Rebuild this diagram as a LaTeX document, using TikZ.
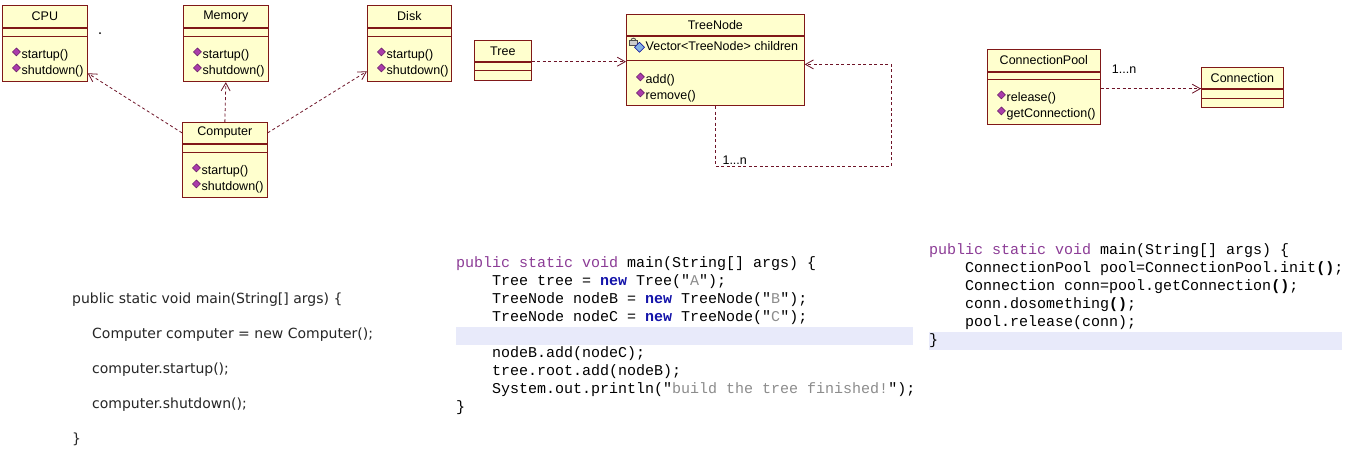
\documentclass[tikz,border=0pt]{standalone}
\usepackage{fontspec}
\setmainfont{Liberation Sans}
\setmonofont{Liberation Mono}
\newfontfamily\codesans{DejaVu Sans}
\usetikzlibrary{arrows.meta}

\definecolor{umlfill}{RGB}{255,255,206}
\definecolor{umlline}{RGB}{128,24,24}
\definecolor{linkcol}{RGB}{110,20,40}
\definecolor{opfill}{RGB}{170,60,170}
\definecolor{opdark}{RGB}{90,20,90}
\definecolor{kwpurple}{RGB}{140,60,150}
\definecolor{kwblue}{RGB}{20,20,170}
\definecolor{strgray}{RGB}{140,140,140}
\definecolor{curline}{RGB}{232,234,250}

\newcommand{\opicon}{\tikz[baseline=0pt]\filldraw[fill=opfill, draw=opdark, line width=0.5pt]
    (0pt,6.5pt) -- (4pt,10.5pt) -- (8pt,6.5pt) -- (4pt,2.5pt) -- cycle;\hspace{1pt}}
\newcommand{\lockicon}{\tikz[baseline=0pt]{%
    \draw[gray!70!black, line width=1pt] (1.5pt,10pt) arc[start angle=180, end angle=0, radius=2.5pt];
    \filldraw[fill=gray!40, draw=gray!60!black, line width=0.5pt] (0pt,5pt) rectangle (8pt,10.5pt);
    \filldraw[fill=cyan!60!blue!50, draw=blue!60!black, line width=0.5pt]
        (5pt,3.5pt) -- (10pt,8.5pt) -- (15pt,3.5pt) -- (10pt,-1.5pt) -- cycle;}\hspace{1pt}}
\newcommand{\kw}[1]{\textcolor{kwpurple}{#1}}
\newcommand{\kwnew}{\textcolor{kwblue}{\textbf{new}}}
\newcommand{\strlit}[1]{"\textcolor{strgray}{#1}"}

\begin{document}
\begin{tikzpicture}[
    x=1pt, y=-1pt,
    clsname/.style={
        rectangle, draw=umlline, fill=umlfill, line width=0.7pt, anchor=north west,
        inner sep=0pt, minimum height=22pt, font=\fontsize{12.5}{15}\selectfont
    },
    clscomp/.style={
        rectangle, draw=umlline, fill=umlfill, line width=0.7pt, anchor=north west,
        inner sep=0pt
    },
    opline/.style={anchor=base west, inner sep=0pt, font=\fontsize{12.5}{15}\selectfont},
    deplink/.style={
        draw=linkcol, line width=0.8pt, dash pattern=on 3pt off 2.5pt,
        -{Straight Barb[length=8pt, width=9pt]}
    },
    codeline/.style={anchor=base west, inner sep=0pt, font=\ttfamily\fontsize{15}{18}\selectfont},
    textline/.style={anchor=base west, inner sep=0pt, font=\codesans\fontsize{14}{17}\selectfont, text=black!85},
]
\useasboundingbox[fill=white] (0,0) rectangle (1345,456);

% CPU class (top-left)
\node[clsname, minimum width=85pt] (cpu) at (2,5) {CPU};
\node[clscomp, minimum width=85pt, minimum height=8pt] (cpu-at) at (cpu.south west) {};
\node[clscomp, minimum width=85pt, minimum height=45pt] (cpu-ops) at (cpu-at.south west) {};
\node[opline] (cpu-op1) at ([shift={(10,22)}]cpu-ops.north west) {\opicon startup()};
\node[opline] (cpu-op2) at ([shift={(10,38)}]cpu-ops.north west) {\opicon shutdown()};
\fill (100,33) circle[radius=1pt];

% Memory class
\node[clsname, minimum width=85pt] (mem) at (183,5) {Memory};
\node[clscomp, minimum width=85pt, minimum height=8pt] (mem-at) at (mem.south west) {};
\node[clscomp, minimum width=85pt, minimum height=45pt] (mem-ops) at (mem-at.south west) {};
\node[opline] (mem-op1) at ([shift={(10,22)}]mem-ops.north west) {\opicon startup()};
\node[opline] (mem-op2) at ([shift={(10,38)}]mem-ops.north west) {\opicon shutdown()};

% Disk class
\node[clsname, minimum width=84pt] (disk) at (367,5) {Disk};
\node[clscomp, minimum width=84pt, minimum height=8pt] (disk-at) at (disk.south west) {};
\node[clscomp, minimum width=84pt, minimum height=45pt] (disk-ops) at (disk-at.south west) {};
\node[opline] (disk-op1) at ([shift={(10,22)}]disk-ops.north west) {\opicon startup()};
\node[opline] (disk-op2) at ([shift={(10,38)}]disk-ops.north west) {\opicon shutdown()};

% Computer class
\node[clsname, minimum width=85pt, minimum height=21pt] (computer) at (182,122) {Computer};
\node[clscomp, minimum width=85pt, minimum height=8pt] (computer-at) at (computer.south west) {};
\node[clscomp, minimum width=85pt, minimum height=45pt] (computer-ops) at (computer-at.south west) {};
\node[opline] (computer-op1) at ([shift={(10,22)}]computer-ops.north west) {\opicon startup()};
\node[opline] (computer-op2) at ([shift={(10,38)}]computer-ops.north west) {\opicon shutdown()};

% Computer depends on CPU, Memory, Disk
\draw[deplink] (computer.west) -- ([yshift=-14pt]cpu-ops.east);
\draw[deplink] (computer.north) -- (mem-ops.south);
\draw[deplink] (computer.east) -- ([yshift=-12pt]disk-ops.west);

% Tree class
\node[clsname, minimum width=57pt, minimum height=21pt] (tree) at (474,40) {Tree};
\node[clscomp, minimum width=57pt, minimum height=8pt] (tree-at) at (tree.south west) {};
\node[clscomp, minimum width=57pt, minimum height=10pt] (tree-ops) at (tree-at.south west) {};

% TreeNode class
\node[clsname, minimum width=178pt, minimum height=21pt] (tn) at (626,14) {TreeNode};
\node[clscomp, minimum width=178pt, minimum height=24pt] (tn-at) at (tn.south west) {};
\node[clscomp, minimum width=178pt, minimum height=45pt] (tn-ops) at (tn-at.south west) {};
\node[opline] (tn-at1) at ([shift={(3,15)}]tn-at.north west) {\lockicon Vector<TreeNode> children};
\node[opline] (tn-op1) at ([shift={(10,23)}]tn-ops.north west) {\opicon add()};
\node[opline] (tn-op2) at ([shift={(10,39)}]tn-ops.north west) {\opicon remove()};

% Tree -> TreeNode, TreeNode -> itself (1...n)
\draw[deplink] (tree.south east) -- (tree.south east -| tn-ops.west);
\draw[deplink] (tn-ops.south) -- ++(0,60) coordinate (tn-loop) -- ++(176,0)
    |- ([yshift=-4pt]tn-ops.north east);
\node[opline] (tn-mult) at ([shift={(7,-2)}]tn-loop) {1...n};

% ConnectionPool class
\node[clsname, minimum width=113pt] (cpool) at (987,49) {ConnectionPool};
\node[clscomp, minimum width=113pt, minimum height=7pt] (cpool-at) at (cpool.south west) {};
\node[clscomp, minimum width=113pt, minimum height=45pt] (cpool-ops) at (cpool-at.south west) {};
\node[opline] (cpool-op1) at ([shift={(10,22)}]cpool-ops.north west) {\opicon release()};
\node[opline] (cpool-op2) at ([shift={(10,38)}]cpool-ops.north west) {\opicon getConnection()};

% Connection class
\node[clsname, minimum width=82pt, minimum height=21pt] (conn) at (1201,67) {Connection};
\node[clscomp, minimum width=82pt, minimum height=9pt] (conn-at) at (conn.south west) {};
\node[clscomp, minimum width=82pt, minimum height=9pt] (conn-ops) at (conn-at.south west) {};

% ConnectionPool -> Connection (1...n)
\draw[deplink] (cpool-ops.east |- conn.south west) coordinate (cpool-out) -- (conn.south west);
\node[opline] (cpool-mult) at ([shift={(11,-15)}]cpool-out) {1...n};

% code: Computer (left)
\node[textline] (lc1) at (72,303) {public static void main(String[] args) \{};
\node[textline] (lc2) at (92,338) {Computer computer = new Computer();};
\node[textline] (lc3) at (92,373) {computer.startup();};
\node[textline] (lc4) at (92,408) {computer.shutdown();};
\node[textline] (lc5) at (72,443) {\}};

% code: Tree (middle)
\fill[curline] (456,327) rectangle (913,345);
\node[codeline] (mc1) at (456,267) {\kw{public static void} main(String[] args) \{};
\node[codeline] (mc2) at (492,285) {Tree tree = \kwnew{} Tree(\strlit{A});};
\node[codeline] (mc3) at (492,303) {TreeNode nodeB = \kwnew{} TreeNode(\strlit{B});};
\node[codeline] (mc4) at (492,321) {TreeNode nodeC = \kwnew{} TreeNode(\strlit{C});};
\node[codeline] (mc5) at (492,357) {nodeB.add(nodeC);};
\node[codeline] (mc6) at (492,375) {tree.root.add(nodeB);};
\node[codeline] (mc7) at (492,393) {System.out.println(\strlit{build the tree finished!});};
\node[codeline] (mc8) at (456,411) {\}};

% code: ConnectionPool (right)
\fill[curline] (929,332) rectangle (1342,350);
\node[codeline] (rc1) at (929,254) {\kw{public static void} main(String[] args) \{};
\node[codeline] (rc2) at (965,272) {ConnectionPool pool=ConnectionPool.init\textbf{()};};
\node[codeline] (rc3) at (965,290) {Connection conn=pool.getConnection\textbf{()};};
\node[codeline] (rc4) at (965,308) {conn.dosomething\textbf{()};};
\node[codeline] (rc5) at (965,326) {pool.release(conn);};
\node[codeline] (rc6) at (929,344) {\}};

\end{tikzpicture}
\end{document}
